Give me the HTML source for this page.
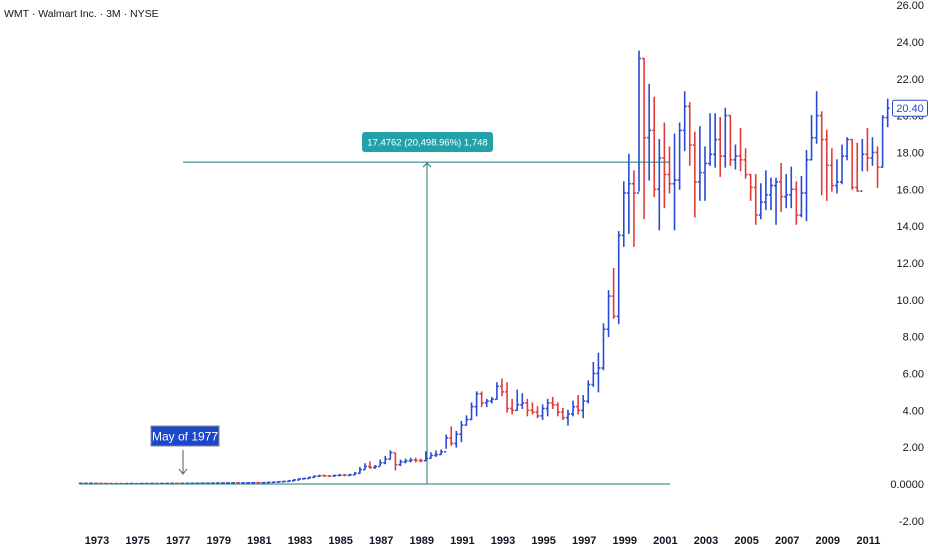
<!DOCTYPE html>
<html><head><meta charset="utf-8">
<style>
html,body{margin:0;padding:0;background:#fff;}
body{width:932px;height:550px;overflow:hidden;font-family:"Liberation Sans",sans-serif;}
svg{display:block}
</style></head>
<body>
<svg id="chart" width="932" height="550" viewBox="0 0 932 550" xmlns="http://www.w3.org/2000/svg">
<text x="4" y="17" font-size="10.5" fill="#131722" font-family="Liberation Sans, sans-serif">WMT · Walmart Inc. · 3M · NYSE</text>
<g id="yaxis"></g>
<g id="xaxis"></g>
<g id="bars"></g>
<g id="measure"></g>
</svg>
<script>
const closes=[0.03,0.032,0.035,0.03,0.028,0.025,0.022,0.02,0.018,0.02,0.022,0.021,
0.023,0.025,0.027,0.026,0.028,0.03,0.032,0.031,0.033,0.035,0.038,0.04,
0.042,0.045,0.048,0.05,0.052,0.055,0.058,0.056,0.06,0.065,0.07,0.068,
0.075,0.085,0.1,0.12,0.14,0.17,0.22,0.28,
0.3,0.36,0.42,0.45,0.44,0.43,0.46,0.48,0.47,0.5,0.58,0.78,0.95,0.9,0.95,1.15,1.35,1.7,1.05,1.2,1.25,1.3,1.28,1.27,1.4,1.55,1.6,1.75,
2.5,2.2,2.7,3.2,3.5,4.2,4.9,4.4,4.5,4.6,5.3,5.0,4.1,4.0,4.3,4.4,4.0,3.9,3.7,4.1,4.4,4.3,3.9,3.6,3.8,4.2,4.0,
4.5,5.4,6.0,6.3,8.4,10.2,9.1,13.5,15.8,16.3,15.8,
23.1,18.8,19.2,16.0,17.7,16.8,16.3,16.5,19.2,20.5,18.4,16.4,16.9,17.4,17.9,18.7,17.8,20.0,17.6,17.8,17.6,16.8,16.1,14.6,
15.3,15.7,16.2,16.4,15.6,15.7,16.0,14.6,15.8,17.6,18.8,20.0,18.7,17.3,16.2,16.4,17.8,18.7,16.1,15.9,17.9,17.7,18.0,17.2,19.9,20.4];
const highs=[0.04,0.04,0.04,0.035,0.03,0.03,0.025,0.025,0.022,0.024,0.025,0.024,
0.026,0.028,0.03,0.03,0.031,0.033,0.035,0.035,0.036,0.038,0.041,0.044,
0.046,0.049,0.052,0.054,0.056,0.06,0.062,0.06,0.065,0.07,0.075,0.074,
0.08,0.09,0.11,0.13,0.15,0.18,0.24,0.3,
0.32,0.38,0.45,0.48,0.48,0.46,0.49,0.52,0.52,0.53,0.62,0.9,1.1,1.2,1.0,1.3,1.5,1.8,1.66,1.3,1.35,1.4,1.4,1.35,1.75,1.7,1.8,1.84,
2.66,3.1,2.85,3.4,3.7,4.4,5.0,5.0,4.6,4.7,5.5,5.7,5.5,4.6,5.1,4.9,4.6,4.4,4.2,4.3,4.6,4.7,4.4,4.1,4.0,4.5,4.8,
4.8,5.6,6.6,7.1,8.7,10.5,11.7,13.7,16.4,17.9,17.0,
23.5,23.1,21.7,21.0,18.7,19.6,18.3,19.0,19.6,21.3,20.7,19.1,19.4,18.3,20.1,20.1,19.9,20.4,20.0,18.4,19.3,18.2,16.8,16.8,
16.3,17.0,16.6,16.6,17.4,16.8,17.2,16.4,16.7,18.1,20.0,21.3,20.2,19.2,18.2,17.6,18.4,18.8,18.7,18.5,18.7,19.3,18.8,18.3,20.0,20.9];
const lows=[0.025,0.028,0.03,0.027,0.025,0.02,0.018,0.016,0.015,0.017,0.019,0.018,
0.02,0.022,0.024,0.023,0.025,0.027,0.029,0.028,0.03,0.032,0.035,0.037,
0.039,0.042,0.045,0.047,0.049,0.051,0.054,0.052,0.056,0.06,0.065,0.063,
0.07,0.075,0.085,0.1,0.12,0.14,0.17,0.22,
0.27,0.3,0.36,0.42,0.42,0.4,0.42,0.45,0.45,0.46,0.5,0.58,0.8,0.85,0.85,1.0,1.1,1.35,0.76,1.0,1.15,1.2,1.2,1.2,1.25,1.4,1.5,1.6,
1.94,2.1,2.0,2.3,3.2,3.5,3.7,4.2,4.2,4.4,4.6,4.8,3.9,3.8,4.0,4.1,3.7,3.8,3.6,3.5,3.7,4.1,3.7,3.5,3.2,3.7,3.8,
3.6,4.4,5.3,5.0,6.2,8.0,9.0,8.7,12.9,13.6,12.9,
15.9,14.4,16.5,15.6,13.8,15.0,15.8,13.8,16.0,18.1,17.3,14.5,15.4,15.4,17.3,17.2,16.7,17.2,17.3,17.1,17.0,16.6,15.4,14.1,
14.4,14.9,14.9,14.1,14.8,15.0,15.0,14.1,14.5,14.3,17.6,18.5,15.7,15.4,15.9,15.8,16.3,17.6,16.0,15.9,17.0,17.0,17.3,16.1,17.2,19.4];
const priceTicks=[26,24,22,20,18,16,14,12,10,8,6,4,2,0,-2];
const priceTickLabels=["26.00","24.00","22.00","20.00","18.00","16.00","14.00","12.00","10.00","8.00","6.00","4.00","2.00","0.0000","-2.00"];
const yearTicks=[1973,1975,1977,1979,1981,1983,1985,1987,1989,1991,1993,1995,1997,1999,2001,2003,2005,2007,2009,2011];
const startYear=1972;
const lastPrice=20.40;

const NS="http://www.w3.org/2000/svg";
const y=v=>484-v*18.42;
const xT=t=>97+(t-1973)*20.3;
const xi=i=>xT(startYear+i*0.25+0.2);
function mk(tag,attrs,parent){const e=document.createElementNS(NS,tag);for(const k in attrs)e.setAttribute(k,attrs[k]);parent.appendChild(e);return e;}
const yg=document.getElementById('yaxis');
priceTicks.forEach((v,k)=>{
  const t=mk('text',{x:924,y:y(v)+4,'text-anchor':'end','font-size':11,fill:'#131722'},yg);
  
  
  t.textContent=priceTickLabels[k];
});
const xg=document.getElementById('xaxis');
yearTicks.forEach(yr=>{
  const t=mk('text',{x:xT(yr),y:544,'text-anchor':'middle','font-size':11,'font-weight':'bold',fill:'#131722'},xg);
  
  
  t.textContent=yr;
});
const bg=document.getElementById('bars');
closes.forEach((c,i)=>{
  const o=i>0?closes[i-1]:c;
  const col=c>=o?'#2a4bd1':'#e23b3b';
  const x=xi(i);
  const g=mk('g',{stroke:col,'stroke-width':1.6},bg);
  
  
  mk('line',{x1:x,x2:x,y1:y(highs[i])-0.5,y2:y(lows[i])+0.5},g);
  mk('line',{x1:x-2,x2:x,y1:y(o),y2:y(o)},g);
  mk('line',{x1:x,x2:x+2,y1:y(c),y2:y(c)},g);
});
const lp=mk('g',{},document.getElementById('chart'));


mk('rect',{x:892.5,y:y(lastPrice)-8,width:35,height:16,rx:2,fill:'#fff',stroke:'#2a4bd1'},lp);
const lt=mk('text',{x:910,y:y(lastPrice)+4,'text-anchor':'middle','font-size':11,fill:'#2a4bd1'},lp);
lt.textContent=lastPrice.toFixed(2);
const m=document.getElementById('measure');
const tc='#1f7a7a';
mk('line',{x1:80,x2:670,y1:484,y2:484,stroke:tc,'stroke-width':1},m);
mk('line',{x1:183,x2:670,y1:y(17.4762),y2:y(17.4762),stroke:tc,'stroke-width':1},m);
mk('line',{x1:427,x2:427,y1:484,y2:y(17.4762),stroke:tc,'stroke-width':1},m);
mk('path',{d:`M423,${y(17.4762)+5} L427,${y(17.4762)+1} L431,${y(17.4762)+5}`,fill:'none',stroke:tc,'stroke-width':1},m);
const box=mk('rect',{x:362,y:132,width:131,height:20,rx:3,fill:'#22a2a8'},m);


const mt=mk('text',{x:427.5,y:145.5,'text-anchor':'middle','font-size':9.5,fill:'#fff'},m);


mt.textContent='17.4762 (20,498.96%) 1,748';
</script>
<svg style="position:absolute;left:0;top:0" width="932" height="550">
<g>
<rect x="151" y="426" width="68" height="20" fill="#1c47cc" stroke="#888" stroke-width="1"/>
<text x="185" y="440.5" text-anchor="middle" font-size="12" fill="#fff" font-family="Liberation Sans, sans-serif">May of 1977</text>
<line x1="183" y1="450" x2="183" y2="473" stroke="#555" stroke-width="1"/>
<path d="M179,469 L183,474 L187,469" fill="none" stroke="#555" stroke-width="1"/>
</g>
</svg>
</body></html>
